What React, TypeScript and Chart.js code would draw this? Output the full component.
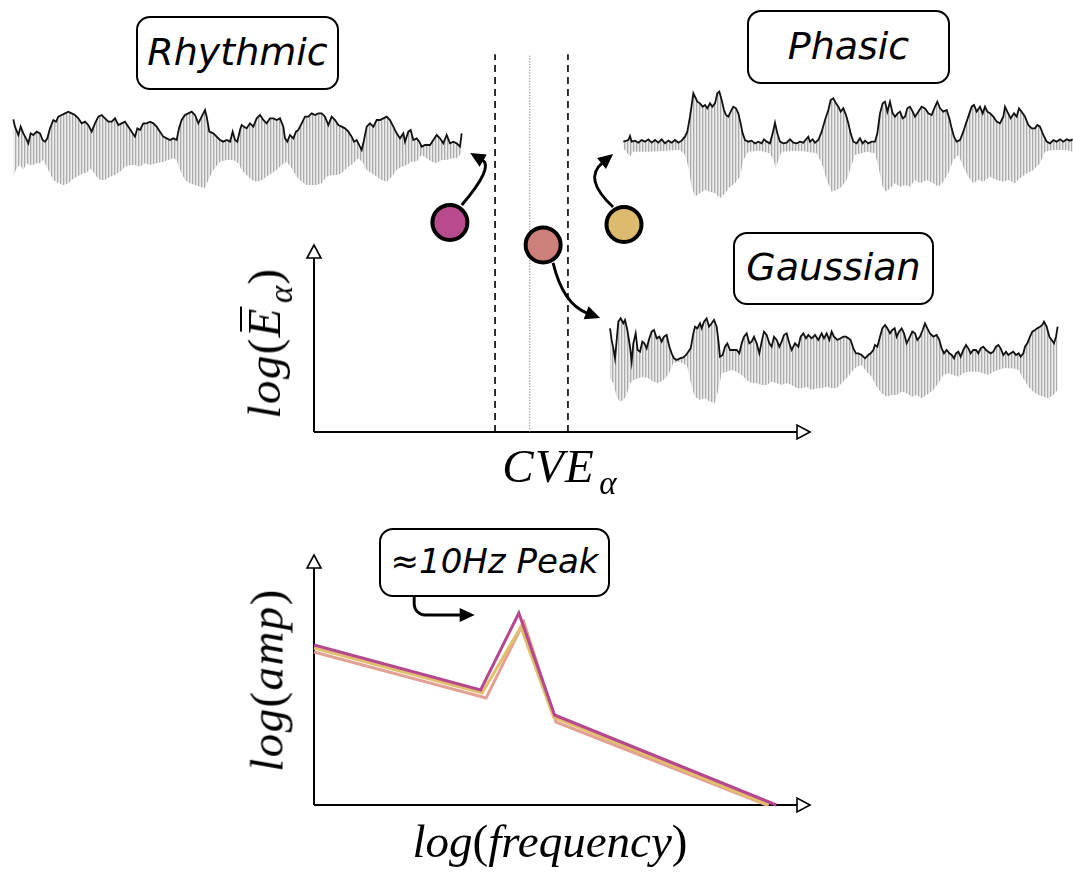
import React, { useEffect, useRef } from "react";
import { Chart, registerables } from "chart.js";

Chart.register(...registerables);

type Pt = [number, number];

// ---------- waveform envelopes (time in samples, amplitude in arbitrary units) ----------
const rhythmicUpper: Pt[] = [[40,82],[45,60],[55,35],[62,60],[70,40],[78,25],[85,10],[92,40],[100,35],[110,45],[120,40],[128,20],[135,15],[142,25],[150,55],[160,80],[168,75],[175,90],[185,95],[195,100],[205,105],[215,100],[225,95],[235,85],[245,70],[255,75],[265,65],[275,45],[285,70],[295,90],[305,95],[315,85],[325,75],[335,75],[345,85],[355,65],[365,70],[375,75],[385,60],[395,45],[405,30],[412,55],[420,50],[430,70],[440,70],[450,75],[460,70],[470,60],[480,45],[490,30],[500,25],[510,20],[520,25],[530,20],[537,55],[545,80],[555,95],[565,100],[575,105],[585,95],[595,70],[605,90],[615,110],[620,90],[628,45],[640,40],[650,30],[660,20],[670,15],[680,20],[690,15],[698,45],[705,20],[712,15],[720,50],[725,65],[732,60],[740,55],[750,70],[760,60],[770,85],[780,95],[790,80],[800,70],[810,85],[820,85],[830,80],[840,85],[850,60],[855,25],[862,15],[870,35],[880,25],[888,45],[895,50],[905,70],[915,90],[925,90],[935,100],[945,95],[955,100],[965,100],[975,90],[985,65],[995,90],[1005,80],[1015,65],[1025,60],[1035,55],[1045,45],[1055,30],[1062,15],[1070,20],[1080,0],[1085,-10],[1090,10],[1100,60],[1110,70],[1120,60],[1130,80],[1140,80],[1150,85],[1160,90],[1170,80],[1180,60],[1190,40],[1200,25],[1210,40],[1215,15],[1225,45],[1232,50],[1240,20],[1250,25],[1258,15],[1265,0],[1275,5],[1290,5],[1300,20],[1310,35],[1320,25],[1330,10],[1340,35],[1350,10],[1360,15],[1370,10],[1380,0],[1385,40]];
const rhythmicLower: Pt[] = [[40,-90],[50,-65],[60,-55],[70,-70],[80,-50],[90,-55],[100,-55],[110,-50],[120,-50],[130,-40],[140,-60],[150,-80],[160,-100],[175,-110],[190,-115],[205,-110],[215,-100],[230,-90],[240,-85],[250,-80],[260,-80],[270,-65],[280,-75],[290,-90],[300,-100],[315,-100],[330,-90],[345,-85],[360,-75],[375,-60],[390,-55],[405,-55],[420,-60],[435,-50],[450,-55],[470,-50],[490,-45],[505,-40],[520,-35],[530,-40],[540,-70],[555,-100],[570,-110],[585,-115],[600,-120],[615,-125],[625,-100],[640,-70],[660,-45],[680,-40],[700,-40],[715,-50],[725,-70],[740,-85],[755,-100],[770,-105],[785,-100],[800,-90],[815,-80],[830,-70],[845,-55],[860,-45],[875,-65],[890,-90],[905,-105],[920,-115],[935,-115],[950,-115],[965,-110],[980,-90],[995,-85],[1010,-85],[1025,-80],[1040,-65],[1060,-50],[1075,-35],[1090,-50],[1100,-70],[1115,-80],[1130,-90],[1145,-100],[1160,-105],[1175,-90],[1190,-70],[1205,-60],[1220,-55],[1235,-45],[1250,-45],[1265,-25],[1280,-35],[1295,-45],[1310,-50],[1325,-40],[1340,-40],[1355,-35],[1370,-35],[1385,-20]];

const phasicUpper: Pt[] = [[70,15],[85,20],[90,32],[95,15],[105,18],[115,12],[125,20],[135,15],[145,22],[155,12],[165,20],[175,12],[185,22],[195,10],[205,18],[215,12],[225,20],[235,12],[245,18],[255,30],[262,45],[270,90],[275,125],[280,160],[285,150],[292,135],[300,130],[308,120],[315,125],[322,115],[330,130],[337,120],[345,130],[352,160],[358,165],[365,140],[372,110],[378,95],[385,90],[392,105],[400,120],[408,115],[415,100],[422,70],[428,40],[435,20],[445,15],[455,18],[465,10],[475,15],[485,10],[492,22],[500,15],[510,10],[518,40],[525,72],[532,40],[540,15],[550,10],[560,12],[570,22],[580,12],[590,10],[600,15],[610,12],[618,22],[625,30],[630,15],[638,22],[645,12],[655,20],[665,45],[675,80],[685,110],[692,140],[700,145],[708,130],[715,120],[722,105],[730,115],[738,95],[745,70],[752,40],[760,15],[770,10],[780,25],[788,10],[795,18],[805,10],[815,15],[825,15],[832,40],[840,100],[848,130],[855,135],[862,105],[870,135],[878,100],[885,90],[893,100],[900,105],[908,85],[915,90],[922,115],[930,120],[938,105],[945,90],[955,105],[965,120],[975,115],[985,100],[995,95],[1005,120],[1012,135],[1020,115],[1030,105],[1040,110],[1048,85],[1055,55],[1062,30],[1070,15],[1080,20],[1090,45],[1098,70],[1105,90],[1115,120],[1122,125],[1130,105],[1140,120],[1148,100],[1155,120],[1162,105],[1170,100],[1180,90],[1190,75],[1200,70],[1210,90],[1215,120],[1222,105],[1232,85],[1242,100],[1250,90],[1257,115],[1265,105],[1275,90],[1285,65],[1295,55],[1305,55],[1312,65],[1320,60],[1330,35],[1340,15],[1350,10],[1360,20],[1370,15],[1380,22],[1390,15],[1400,22],[1410,18],[1418,22]];
const phasicLower: Pt[] = [[70,-5],[90,-30],[100,-15],[150,-15],[200,-12],[240,-10],[255,-25],[265,-60],[275,-120],[285,-150],[300,-140],[315,-130],[330,-135],[345,-140],[360,-155],[375,-140],[390,-120],[405,-110],[420,-90],[430,-40],[445,-15],[480,-12],[510,-20],[520,-40],[528,-65],[535,-40],[545,-15],[600,-12],[650,-20],[665,-50],[680,-100],[695,-135],[710,-130],[725,-120],[740,-100],[755,-55],[765,-25],[800,-15],[825,-20],[835,-60],[848,-120],[858,-135],[870,-125],[885,-110],[900,-120],[915,-115],[930,-120],[945,-100],[960,-110],[980,-100],[1000,-110],[1015,-120],[1030,-105],[1045,-80],[1060,-40],[1075,-25],[1090,-60],[1105,-90],[1120,-110],[1135,-100],[1150,-105],[1170,-90],[1190,-100],[1210,-105],[1225,-100],[1245,-110],[1260,-95],[1280,-80],[1300,-70],[1320,-50],[1335,-15],[1360,-10],[1400,-10],[1418,-15]];

const gaussianUpper: Pt[] = [[30,115],[35,80],[40,55],[45,25],[50,80],[55,135],[62,145],[70,130],[75,140],[82,110],[90,60],[95,15],[100,70],[107,100],[113,50],[120,45],[127,75],[133,70],[140,55],[148,85],[155,105],[162,110],[170,85],[178,90],[185,75],[192,90],[200,95],[208,60],[215,40],[222,25],[230,20],[240,25],[250,28],[258,35],[265,45],[272,55],[280,100],[285,120],[292,115],[300,130],[305,115],[312,135],[320,145],[327,120],[335,130],[342,140],[350,120],[355,80],[360,30],[368,35],[375,60],[382,70],[390,50],[400,50],[410,50],[418,40],[425,70],[432,90],[440,100],[448,70],[455,75],[462,90],[470,70],[478,40],[485,75],[492,105],[500,95],[508,70],[515,60],[522,90],[530,80],[538,60],[545,75],[552,95],[560,100],[568,70],[575,50],[585,70],[595,60],[602,90],[610,100],[618,85],[625,95],[635,85],[645,95],[655,80],[665,100],[672,85],[680,100],[688,80],[695,105],[702,90],[712,80],[722,85],[730,90],[738,90],[745,85],[752,80],[760,55],[768,40],[775,40],[785,35],[795,25],[805,35],[812,40],[820,50],[825,65],[832,60],[840,90],[847,115],[855,125],[862,115],[870,100],[877,110],[884,115],[890,90],[897,105],[905,115],[912,100],[920,70],[930,90],[937,105],[945,100],[952,80],[960,90],[968,110],[975,130],[982,115],[990,100],[1000,90],[1010,95],[1018,80],[1025,55],[1032,40],[1040,50],[1048,40],[1055,35],[1062,25],[1068,40],[1075,45],[1082,30],[1090,50],[1098,65],[1105,55],[1112,40],[1120,50],[1128,50],[1135,40],[1142,55],[1150,60],[1158,50],[1165,45],[1172,40],[1180,45],[1188,60],[1195,65],[1202,55],[1210,35],[1218,45],[1225,35],[1232,40],[1240,45],[1248,35],[1256,40],[1262,30],[1270,40],[1275,60],[1282,70],[1290,90],[1297,105],[1305,110],[1312,115],[1320,120],[1327,125],[1332,135],[1340,120],[1348,90],[1355,80],[1362,70],[1368,90],[1373,120]];
const gaussianLower: Pt[] = [[30,-35],[40,-50],[50,-90],[60,-105],[70,-100],[80,-85],[90,-50],[100,-40],[115,-35],[130,-30],[145,-35],[160,-45],[175,-50],[190,-40],[205,-25],[220,10],[235,15],[250,10],[262,0],[275,-60],[285,-90],[300,-100],[315,-95],[330,-105],[345,-110],[355,-70],[365,-20],[380,-15],[395,-10],[410,-15],[425,-25],[440,-40],[455,-50],[470,-50],[485,-55],[500,-55],[515,-45],[530,-50],[545,-55],[560,-50],[575,-55],[590,-65],[605,-65],[620,-60],[635,-70],[650,-65],[665,-65],[680,-60],[695,-65],[710,-65],[725,-50],[740,-35],[755,-15],[770,0],[785,5],[800,-15],[815,-30],[830,-60],[845,-80],[860,-90],[875,-85],[890,-85],[905,-75],[920,-80],[935,-90],[950,-85],[965,-95],[980,-85],[1000,-70],[1015,-50],[1030,-25],[1045,-20],[1060,-25],[1075,-30],[1090,-20],[1105,-15],[1120,-15],[1135,-15],[1150,-20],[1165,-25],[1180,-15],[1195,-10],[1210,-5],[1225,-5],[1240,-5],[1255,-10],[1270,-35],[1285,-60],[1300,-75],[1315,-85],[1330,-90],[1345,-95],[1360,-85],[1373,-70]];

// ---------- CVE / energy state space ----------
const stateNames = ["Rhythmic", "Gaussian", "Phasic"];
const stateCVE = [2.74, 4.62, 6.25];
const stateEnergy = [11.2, 10.0, 11.1];
const stateColors = ["#b84a8e", "#cd8079", "#dcbb6e"];
const thresholdCVE = [3.65, 4.35, 5.12];
const thresholdTop = 20.2;
const axisEnd = 10;

// curved arrows: [start, control, end] in CVE/energy units
const stateArrows: Pt[][] = [
  [[2.98, 12.14], [3.63, 14.17], [3.15, 14.92]],
  [[4.82, 9.04], [5.02, 6.84], [5.77, 6.1]],
  [[6.03, 12.03], [5.42, 13.53], [6.03, 14.87]],
];

// ---------- spectra (log frequency vs log amplitude) ----------
const spectrumNames = ["Rhythmic", "Phasic", "Gaussian"];
const rhythmicSpecX = [0, 3.36, 4.13, 4.85, 9.32];
const rhythmicSpecY = [6.4, 4.6, 7.68, 3.6, 0];
const phasicSpecX = [0, 3.39, 4.17, 4.83, 9.17];
const phasicSpecY = [6.28, 4.48, 7.12, 3.52, 0];
const gaussianSpecX = [0, 3.47, 4.23, 4.88, 9.13];
const gaussianSpecY = [6.12, 4.28, 7.32, 3.32, 0];
const spectrumColors = ["#b5478f", "#e2bf6a", "#e3a094"];
const peakArrow: Pt[] = [[2.02, 8.32], [2.02, 7.6], [3.24, 7.6]];

// ---------- helpers ----------
function makeStripePattern(): CanvasPattern | string {
  const c = document.createElement("canvas");
  c.width = 3;
  c.height = 1;
  const g = c.getContext("2d");
  if (!g) return "#d2d2d2";
  const cols = ["#acacac", "#d8d8d8", "#ececec"];
  cols.forEach((col, i) => {
    g.fillStyle = col;
    g.fillRect(i, 0, 1, 1);
  });
  const p = g.createPattern(c, "repeat");
  return p || "#d2d2d2";
}

const arrowAxesPlugin = {
  id: "arrowAxes",
  beforeDatasetsDraw(chart: any) {
    const { ctx, scales } = chart;
    const left = scales.x.getPixelForValue(0);
    const right = scales.x.getPixelForValue(axisEnd);
    const bottom = scales.y.getPixelForValue(0);
    const top = scales.y.getPixelForValue(axisEnd);
    const hl = 13;
    const hw = 7;
    ctx.save();
    ctx.strokeStyle = "#000";
    ctx.lineWidth = 2;
    ctx.beginPath();
    ctx.moveTo(left, bottom);
    ctx.lineTo(right - hl, bottom);
    ctx.moveTo(left, bottom);
    ctx.lineTo(left, top + hl);
    ctx.stroke();
    ctx.fillStyle = "#fff";
    ctx.lineWidth = 1.6;
    ctx.lineJoin = "miter";
    ctx.beginPath();
    ctx.moveTo(right, bottom);
    ctx.lineTo(right - hl, bottom - hw);
    ctx.lineTo(right - hl, bottom + hw);
    ctx.closePath();
    ctx.fill();
    ctx.stroke();
    ctx.beginPath();
    ctx.moveTo(left, top);
    ctx.lineTo(left - hw, top + hl);
    ctx.lineTo(left + hw, top + hl);
    ctx.closePath();
    ctx.fill();
    ctx.stroke();
    ctx.restore();
  },
};

function makeArrowPlugin(id: string, arrows: Pt[][], curve: "quad" | "corner") {
  return {
    id,
    afterDatasetsDraw(chart: any) {
      const { ctx, scales } = chart;
      const px = (p: Pt): Pt => [scales.x.getPixelForValue(p[0]), scales.y.getPixelForValue(p[1])];
      ctx.save();
      ctx.strokeStyle = "#000";
      ctx.fillStyle = "#000";
      ctx.lineWidth = 2.9;
      ctx.lineCap = "butt";
      for (const a of arrows) {
        const p = a.map(px);
        const tip = p[p.length - 1];
        const prev = p[p.length - 2];
        const dx = tip[0] - prev[0];
        const dy = tip[1] - prev[1];
        const len = Math.hypot(dx, dy) || 1;
        const ux = dx / len;
        const uy = dy / len;
        const hl = 15;
        const hw = 7;
        const base: Pt = [tip[0] - ux * (hl - 1), tip[1] - uy * (hl - 1)];
        ctx.beginPath();
        ctx.moveTo(p[0][0], p[0][1]);
        if (curve === "quad") {
          ctx.quadraticCurveTo(p[1][0], p[1][1], base[0], base[1]);
        } else {
          ctx.arcTo(p[1][0], p[1][1], base[0], base[1], 11);
          ctx.lineTo(base[0], base[1]);
        }
        ctx.stroke();
        const b2: Pt = [tip[0] - ux * hl, tip[1] - uy * hl];
        ctx.beginPath();
        ctx.moveTo(tip[0], tip[1]);
        ctx.lineTo(b2[0] - uy * hw, b2[1] + ux * hw);
        ctx.lineTo(b2[0] + uy * hw, b2[1] - ux * hw);
        ctx.closePath();
        ctx.fill();
      }
      ctx.restore();
    },
  };
}

const hiddenLinear = (min: number, max: number) => ({ type: "linear", min, max, display: false });

// ---------- components ----------
function Waveform(props: {
  name: string;
  upper: Pt[];
  lower: Pt[];
  left: number;
  top: number;
  width: number;
  height: number;
}) {
  const ref = useRef<HTMLCanvasElement>(null);
  const { upper, lower, left, top, width, height, name } = props;
  useEffect(() => {
    const canvas = ref.current;
    if (!canvas) return;
    const chart = new Chart(canvas, {
      type: "line",
      data: {
        datasets: [
          {
            label: name + " trough",
            data: lower.map(([x, y]) => ({ x, y })),
            borderColor: "rgba(0,0,0,0)",
            borderWidth: 0,
            pointRadius: 0,
            fill: false,
          },
          {
            label: name + " envelope",
            data: upper.map(([x, y]) => ({ x, y })),
            borderColor: "#111",
            borderWidth: 1.8,
            pointRadius: 0,
            fill: "-1",
            backgroundColor: makeStripePattern() as any,
          },
        ],
      },
      options: {
        responsive: false,
        animation: false,
        events: [],
        devicePixelRatio: 1,
        layout: { padding: 0 },
        scales: {
          x: hiddenLinear(0, width * 3),
          y: hiddenLinear(200 - height * 3, 200),
        } as any,
        plugins: { legend: { display: false }, tooltip: { enabled: false } },
      },
    });
    return () => chart.destroy();
  }, []);
  return (
    <canvas
      ref={ref}
      width={width}
      height={height}
      style={{ position: "absolute", left, top, width, height }}
    />
  );
}

function StateSpace() {
  const ref = useRef<HTMLCanvasElement>(null);
  useEffect(() => {
    const canvas = ref.current;
    if (!canvas) return;
    const chart = new Chart(canvas, {
      type: "scatter",
      data: {
        datasets: [
          {
            type: "scatter",
            label: "states",
            data: stateCVE.map((x, i) => ({ x, y: stateEnergy[i] })),
            pointRadius: 17.5,
            pointBackgroundColor: stateColors,
            pointBorderColor: "#000",
            pointBorderWidth: 4,
            clip: false as any,
            order: 0,
          } as any,
          ...thresholdCVE.map((x, i) => ({
            type: "line",
            label: "threshold " + i,
            data: [
              { x, y: 0 },
              { x, y: thresholdTop },
            ],
            borderColor: i === 1 ? "#777" : "#000",
            borderWidth: i === 1 ? 1 : 1.6,
            borderDash: i === 1 ? [1.2, 1.6] : [7, 5],
            pointRadius: 0,
            fill: false,
            clip: false,
            order: 1,
          })) as any,
        ],
      },
      options: {
        responsive: false,
        animation: false,
        events: [],
        devicePixelRatio: 1,
        layout: { padding: { left: 74, top: 40, right: 30, bottom: 68 } },
        scales: { x: hiddenLinear(0, 10), y: hiddenLinear(0, 392 / 18.7) } as any,
        plugins: { legend: { display: false }, tooltip: { enabled: false } },
      },
      plugins: [arrowAxesPlugin, makeArrowPlugin("stateArrows", stateArrows, "quad")],
    });
    return () => chart.destroy();
  }, []);
  return (
    <canvas
      ref={ref}
      width={600}
      height={500}
      style={{ position: "absolute", left: 240, top: 0, width: 600, height: 500 }}
    />
  );
}

function Spectrum() {
  const ref = useRef<HTMLCanvasElement>(null);
  useEffect(() => {
    const canvas = ref.current;
    if (!canvas) return;
    const xs = [rhythmicSpecX, phasicSpecX, gaussianSpecX];
    const ys = [rhythmicSpecY, phasicSpecY, gaussianSpecY];
    const chart = new Chart(canvas, {
      type: "line",
      data: {
        datasets: spectrumNames.map((name, k) => ({
          label: name,
          data: xs[k].map((x, i) => ({ x, y: ys[k][i] })),
          borderColor: spectrumColors[k],
          borderWidth: 3,
          pointRadius: 0,
          fill: false,
          clip: false as any,
        })),
      },
      options: {
        responsive: false,
        animation: false,
        events: [],
        devicePixelRatio: 1,
        layout: { padding: { left: 74, top: 35, right: 30, bottom: 65 } },
        scales: { x: hiddenLinear(0, 10), y: hiddenLinear(0, 10) } as any,
        plugins: { legend: { display: false }, tooltip: { enabled: false } },
      },
      plugins: [arrowAxesPlugin, makeArrowPlugin("peakArrow", [peakArrow], "corner")],
    });
    return () => chart.destroy();
  }, []);
  return (
    <canvas
      ref={ref}
      width={600}
      height={350}
      style={{ position: "absolute", left: 240, top: 520, width: 600, height: 350 }}
    />
  );
}

function LabelBox(props: { text: string; left: number; top: number; width: number; height: number; size: number }) {
  const { text, left, top, width, height, size } = props;
  return (
    <div
      style={{
        position: "absolute",
        left,
        top,
        width,
        height,
        boxSizing: "border-box",
        border: "2px solid #000",
        borderRadius: 14,
        background: "#fff",
        display: "flex",
        alignItems: "center",
        justifyContent: "center",
        fontFamily: "'DejaVu Sans', sans-serif",
        fontStyle: "italic",
        fontSize: size,
        paddingBottom: 3,
        whiteSpace: "nowrap",
        color: "#000",
      }}
    >
      {text}
    </div>
  );
}

const mathFont: React.CSSProperties = {
  fontFamily: "'Liberation Serif', 'DejaVu Serif', serif",
  fontStyle: "italic",
  fontSize: 47,
  lineHeight: "47px",
  whiteSpace: "nowrap",
  color: "#000",
  letterSpacing: "0.03em",
};
const upright: React.CSSProperties = { fontStyle: "normal" };
const sub: React.CSSProperties = { fontSize: "0.7em", position: "relative", top: "0.36em", marginLeft: "0.12em" };

export default function App() {
  useEffect(() => {
    document.body.style.margin = "0";
  }, []);
  return (
    <div
      style={{
        position: "absolute",
        left: 0,
        top: 0,
        width: 1073,
        height: 872,
        background: "#fff",
        overflow: "hidden",
      }}
    >
      <Waveform name="Rhythmic" upper={rhythmicUpper} lower={rhythmicLower} left={0} top={80} width={480} height={120} />
      <Waveform name="Phasic" upper={phasicUpper} lower={phasicLower} left={600} top={80} width={473} height={120} />
      <Waveform name="Gaussian" upper={gaussianUpper} lower={gaussianLower} left={600} top={300} width={473} height={110} />
      <StateSpace />
      <Spectrum />

      <LabelBox text={stateNames[0]} left={136} top={16} width={203} height={74} size={38} />
      <LabelBox text={stateNames[2]} left={747} top={10} width={203} height={74} size={38} />
      <LabelBox text={stateNames[1]} left={733} top={232} width={201} height={73} size={38} />
      <LabelBox text={"\u224810Hz Peak"} left={379} top={528} width={231} height={69} size={34} />

      {/* y label of state space */}
      <div
        style={{
          ...mathFont,
          position: "absolute",
          left: 267,
          top: 343,
          transform: "translate(-50%, -50%) rotate(-90deg)",
        }}
      >
        log<span style={upright}>(</span>
        <span style={{ position: "relative" }}>
          E
          <span
            style={{
              position: "absolute",
              left: "0.12em",
              right: "-0.02em",
              top: "0.04em",
              borderTop: "2px solid #000",
            }}
          />
        </span>
        <span style={sub}>α</span>
        <span style={upright}>)</span>
      </div>

      {/* x label of state space */}
      <div
        style={{
          ...mathFont,
          position: "absolute",
          left: 560,
          top: 443,
          transform: "translateX(-50%)",
        }}
      >
        CVE<span style={sub}>α</span>
      </div>

      {/* y label of spectrum */}
      <div
        style={{
          ...mathFont,
          position: "absolute",
          left: 267,
          top: 680,
          transform: "translate(-50%, -50%) rotate(-90deg)",
        }}
      >
        log<span style={upright}>(</span>amp<span style={upright}>)</span>
      </div>

      {/* x label of spectrum */}
      <div
        style={{
          ...mathFont,
          position: "absolute",
          left: 550,
          top: 818,
          transform: "translateX(-50%)",
          letterSpacing: "0em",
        }}
      >
        log<span style={upright}>(</span>frequency<span style={upright}>)</span>
      </div>
    </div>
  );
}
